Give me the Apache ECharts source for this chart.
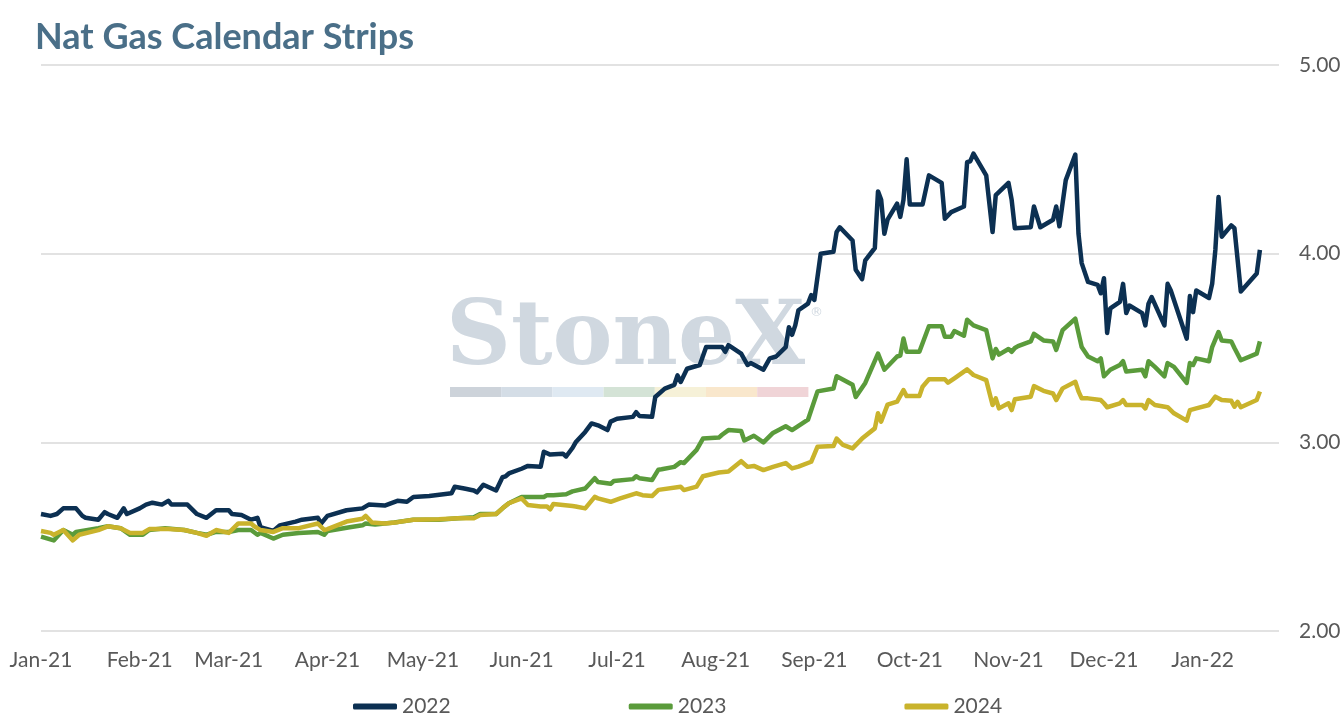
<!DOCTYPE html>
<html lang="en">
<head>
    <meta charset="UTF-8">
    <title>Nat Gas Calendar Strips</title>
    <script src="https://cdn.jsdelivr.net/npm/echarts/dist/echarts.min.js"></script>
    <style>
        html, body { margin: 0; padding: 0; background: #fff; }
        #main { width: 1344px; height: 724px; }
    </style>
</head>
<body>
    <div id="main"></div>
    <script>
        // month labels on the x axis
        var monthNames = ['Jan', 'Feb', 'Mar', 'Apr', 'May', 'Jun', 'Jul', 'Aug', 'Sep', 'Oct', 'Nov', 'Dec'];
        var monthTicks = ['2021-01-01', '2021-02-01', '2021-03-01', '2021-04-01', '2021-05-01', '2021-06-01',
            '2021-07-01', '2021-08-01', '2021-09-01', '2021-10-01', '2021-11-01', '2021-12-01', '2022-01-01'];
        var seriesNames = ['2022', '2023', '2024'];

        // Cal 2022 strip
        var dates2022 = ['2021-01-01','2021-01-04','2021-01-06','2021-01-08','2021-01-12','2021-01-14','2021-01-15','2021-01-19','2021-01-21','2021-01-22','2021-01-25','2021-01-27','2021-01-28',
            '2021-02-01','2021-02-03','2021-02-05','2021-02-08','2021-02-10','2021-02-11','2021-02-16','2021-02-19','2021-02-22','2021-02-25',
            '2021-03-01','2021-03-02','2021-03-05','2021-03-08','2021-03-10','2021-03-11','2021-03-12','2021-03-15','2021-03-17','2021-03-22','2021-03-24','2021-03-29','2021-03-30',
            '2021-04-01','2021-04-07','2021-04-12','2021-04-14','2021-04-19','2021-04-23','2021-04-26','2021-04-28',
            '2021-05-03','2021-05-10','2021-05-11','2021-05-14','2021-05-17','2021-05-18','2021-05-20','2021-05-24','2021-05-26','2021-05-27','2021-05-28',
            '2021-06-01','2021-06-03','2021-06-07','2021-06-08','2021-06-10','2021-06-14','2021-06-15','2021-06-17','2021-06-18','2021-06-21','2021-06-23','2021-06-25','2021-06-28','2021-06-29',
            '2021-07-01','2021-07-06','2021-07-07','2021-07-08','2021-07-12','2021-07-13','2021-07-16','2021-07-19','2021-07-20','2021-07-21','2021-07-23','2021-07-27','2021-07-29',
            '2021-08-03','2021-08-04','2021-08-05','2021-08-09','2021-08-11','2021-08-12','2021-08-16','2021-08-18','2021-08-20','2021-08-23','2021-08-24','2021-08-25','2021-08-26','2021-08-27','2021-08-30','2021-08-31',
            '2021-09-01','2021-09-03','2021-09-07','2021-09-08','2021-09-09','2021-09-13','2021-09-14','2021-09-16','2021-09-17','2021-09-20','2021-09-21','2021-09-22','2021-09-23','2021-09-24','2021-09-27','2021-09-28','2021-09-29','2021-09-30',
            '2021-10-01','2021-10-05','2021-10-07','2021-10-11','2021-10-12','2021-10-14','2021-10-18','2021-10-19','2021-10-20','2021-10-21','2021-10-25','2021-10-27','2021-10-28',
            '2021-11-01','2021-11-02','2021-11-03','2021-11-08','2021-11-09','2021-11-11','2021-11-15','2021-11-16','2021-11-17','2021-11-19','2021-11-22','2021-11-23','2021-11-24','2021-11-26','2021-11-29','2021-11-30',
            '2021-12-01','2021-12-02','2021-12-03','2021-12-06','2021-12-07','2021-12-08','2021-12-09','2021-12-13','2021-12-14','2021-12-15','2021-12-16','2021-12-20','2021-12-21','2021-12-22','2021-12-27','2021-12-28','2021-12-29','2021-12-30',
            '2022-01-03','2022-01-04','2022-01-05','2022-01-06','2022-01-07','2022-01-10','2022-01-11','2022-01-13','2022-01-18','2022-01-19'];
        var strip2022 = [2.62,2.61,2.62,2.65,2.65,2.61,2.60,2.59,2.63,2.62,2.60,2.65,2.62,
            2.65,2.67,2.68,2.67,2.69,2.67,2.67,2.62,2.60,2.64,
            2.64,2.62,2.615,2.59,2.60,2.55,2.545,2.53,2.56,2.58,2.59,2.60,2.57,
            2.61,2.64,2.65,2.67,2.665,2.69,2.685,2.71,
            2.715,2.73,2.765,2.755,2.745,2.735,2.775,2.745,2.815,2.82,2.835,
            2.86,2.875,2.87,2.95,2.935,2.94,2.925,2.97,3.00,3.055,3.10,3.09,3.065,3.11,
            3.125,3.135,3.16,3.14,3.135,3.24,3.285,3.305,3.355,3.32,3.39,3.41,3.505,
            3.505,3.48,3.515,3.47,3.41,3.42,3.385,3.445,3.455,3.505,3.61,3.57,3.62,3.70,3.735,3.78,
            3.755,4.00,4.01,4.115,4.14,4.07,3.915,3.865,3.965,4.03,4.33,4.285,4.105,4.18,4.265,4.195,4.285,4.50,
            4.26,4.26,4.415,4.375,4.185,4.22,4.25,4.485,4.49,4.53,4.415,4.115,4.31,
            4.375,4.285,4.135,4.14,4.25,4.14,4.18,4.25,4.145,4.39,4.525,4.105,3.95,3.85,3.835,3.79,
            3.87,3.58,3.71,3.745,3.84,3.685,3.725,3.685,3.62,3.735,3.77,3.62,3.84,3.805,3.55,3.775,3.69,3.805,
            3.765,3.84,4.02,4.30,4.09,4.15,4.135,3.80,3.895,4.02];

        // Cal 2023 strip
        var dates2023 = ['2021-01-01','2021-01-05','2021-01-08','2021-01-11','2021-01-12','2021-01-19','2021-01-22','2021-01-26','2021-01-29',
            '2021-02-02','2021-02-04','2021-02-09','2021-02-15','2021-02-19','2021-02-22','2021-02-25',
            '2021-03-01','2021-03-04','2021-03-08','2021-03-10','2021-03-11','2021-03-15','2021-03-18','2021-03-23','2021-03-29','2021-03-31',
            '2021-04-01','2021-04-08','2021-04-12','2021-04-13','2021-04-16','2021-04-22','2021-04-28',
            '2021-05-06','2021-05-12','2021-05-17','2021-05-19','2021-05-24','2021-05-26','2021-05-28',
            '2021-06-01','2021-06-08','2021-06-09','2021-06-11','2021-06-15','2021-06-17','2021-06-21','2021-06-24','2021-06-25','2021-06-29','2021-06-30',
            '2021-07-06','2021-07-07','2021-07-08','2021-07-12','2021-07-14','2021-07-15','2021-07-19','2021-07-21','2021-07-22','2021-07-26','2021-07-28',
            '2021-08-02','2021-08-03','2021-08-05','2021-08-09','2021-08-10','2021-08-13','2021-08-16','2021-08-19','2021-08-23','2021-08-25','2021-08-30',
            '2021-09-02','2021-09-07','2021-09-08','2021-09-13','2021-09-14','2021-09-17','2021-09-21','2021-09-23','2021-09-27','2021-09-28','2021-09-29','2021-09-30',
            '2021-10-04','2021-10-07','2021-10-11','2021-10-12','2021-10-14','2021-10-15','2021-10-18','2021-10-19','2021-10-21','2021-10-25','2021-10-27','2021-10-28','2021-10-29',
            '2021-11-01','2021-11-02','2021-11-03','2021-11-04','2021-11-08','2021-11-09','2021-11-12','2021-11-15','2021-11-16','2021-11-18','2021-11-22','2021-11-23','2021-11-24','2021-11-26','2021-11-29','2021-11-30',
            '2021-12-01','2021-12-03','2021-12-06','2021-12-07','2021-12-08','2021-12-13','2021-12-14','2021-12-15','2021-12-17','2021-12-20','2021-12-21','2021-12-23','2021-12-27','2021-12-28','2021-12-29','2021-12-30',
            '2022-01-03','2022-01-04','2022-01-06','2022-01-07','2022-01-10','2022-01-11','2022-01-13','2022-01-18','2022-01-19'];
        var strip2023 = [2.50,2.48,2.535,2.51,2.525,2.545,2.555,2.545,2.51,
            2.51,2.535,2.545,2.535,2.52,2.51,2.525,
            2.525,2.535,2.535,2.51,2.52,2.49,2.51,2.52,2.525,2.51,
            2.53,2.55,2.56,2.57,2.565,2.575,2.59,
            2.59,2.597,2.603,2.62,2.62,2.65,2.677,
            2.71,2.71,2.72,2.72,2.725,2.74,2.755,2.81,2.79,2.78,2.795,
            2.805,2.82,2.81,2.80,2.855,2.857,2.87,2.895,2.89,2.96,3.02,
            3.025,3.04,3.065,3.06,3.01,3.035,3.00,3.05,3.085,3.065,3.12,
            3.27,3.285,3.35,3.305,3.24,3.315,3.47,3.385,3.455,3.46,3.55,3.48,
            3.48,3.615,3.615,3.56,3.56,3.59,3.565,3.65,3.62,3.595,3.445,3.495,3.465,
            3.495,3.48,3.50,3.51,3.535,3.575,3.54,3.535,3.49,3.595,3.655,3.58,3.505,3.455,3.43,3.445,
            3.35,3.385,3.41,3.43,3.375,3.385,3.35,3.43,3.40,3.35,3.42,3.40,3.315,3.42,3.41,3.445,
            3.43,3.505,3.585,3.54,3.535,3.50,3.435,3.47,3.535];

        // Cal 2024 strip
        var dates2024 = ['2021-01-01','2021-01-04','2021-01-05','2021-01-08','2021-01-11','2021-01-13','2021-01-19','2021-01-22','2021-01-26','2021-01-29',
            '2021-02-02','2021-02-04','2021-02-10','2021-02-15','2021-02-19','2021-02-22','2021-02-25',
            '2021-03-01','2021-03-04','2021-03-08','2021-03-09','2021-03-11','2021-03-15','2021-03-18','2021-03-23','2021-03-29','2021-03-31',
            '2021-04-01','2021-04-07','2021-04-12','2021-04-13','2021-04-15','2021-04-19','2021-04-23','2021-04-28',
            '2021-05-06','2021-05-12','2021-05-17','2021-05-19','2021-05-24','2021-05-26','2021-05-28',
            '2021-06-01','2021-06-03','2021-06-07','2021-06-09','2021-06-10','2021-06-11','2021-06-14','2021-06-17','2021-06-18','2021-06-21','2021-06-24','2021-06-25','2021-06-29',
            '2021-07-02','2021-07-07','2021-07-09','2021-07-12','2021-07-14','2021-07-21','2021-07-22','2021-07-26','2021-07-28',
            '2021-08-02','2021-08-05','2021-08-09','2021-08-11','2021-08-13','2021-08-16','2021-08-19','2021-08-23','2021-08-25','2021-08-27','2021-08-31',
            '2021-09-02','2021-09-07','2021-09-08','2021-09-10','2021-09-13','2021-09-16','2021-09-20','2021-09-21','2021-09-22','2021-09-24','2021-09-27','2021-09-29','2021-09-30',
            '2021-10-04','2021-10-05','2021-10-07','2021-10-12','2021-10-13','2021-10-15','2021-10-19','2021-10-21','2021-10-25','2021-10-27','2021-10-28','2021-10-29',
            '2021-11-01','2021-11-02','2021-11-03','2021-11-08','2021-11-09','2021-11-12','2021-11-15','2021-11-16','2021-11-18','2021-11-22','2021-11-23','2021-11-24','2021-11-26','2021-11-30',
            '2021-12-01','2021-12-02','2021-12-06','2021-12-07','2021-12-08','2021-12-13','2021-12-14','2021-12-15','2021-12-17','2021-12-21','2021-12-23','2021-12-27','2021-12-28','2021-12-30',
            '2022-01-03','2022-01-05','2022-01-07','2022-01-10','2022-01-11','2022-01-12','2022-01-13','2022-01-18','2022-01-19'];
        var strip2024 = [2.53,2.52,2.51,2.535,2.48,2.51,2.535,2.555,2.545,2.52,
            2.52,2.54,2.54,2.535,2.52,2.505,2.535,
            2.52,2.57,2.57,2.555,2.535,2.525,2.545,2.545,2.57,2.535,
            2.54,2.58,2.595,2.61,2.575,2.57,2.577,2.59,
            2.592,2.597,2.597,2.615,2.62,2.65,2.677,
            2.703,2.668,2.66,2.66,2.645,2.673,2.668,2.662,2.66,2.65,2.711,2.703,2.685,
            2.703,2.73,2.72,2.715,2.748,2.765,2.747,2.765,2.82,
            2.84,2.845,2.90,2.87,2.875,2.853,2.87,2.89,2.862,2.871,2.897,
            2.977,2.98,3.02,2.986,2.968,3.02,3.074,3.154,3.11,3.20,3.216,3.277,3.245,
            3.245,3.295,3.334,3.334,3.316,3.339,3.387,3.357,3.33,3.198,3.233,3.18,
            3.207,3.171,3.228,3.242,3.298,3.273,3.259,3.224,3.286,3.321,3.27,3.233,3.233,3.224,
            3.207,3.186,3.207,3.224,3.198,3.198,3.18,3.224,3.198,3.186,3.154,3.115,3.171,3.18,
            3.198,3.242,3.224,3.22,3.189,3.215,3.186,3.224,3.269];

        var colors = ['#0c3052', '#5a9b3b', '#c9b32c'];
        var watermarkColors = ['#cdd3da', '#d4dde6', '#dfe9f2', '#d4e3d6', '#f6f1d8', '#f9e7cc', '#f0d4d7'];

        // 'YYYY-MM-DD' -> local timestamp
        function toTime(s) {
            var p = s.split('-');
            return new Date(+p[0], +p[1] - 1, +p[2]).getTime();
        }

        function pairs(dates, vals) {
            return dates.map(function (d, i) { return [toTime(d), vals[i]]; });
        }

        var chartDom = document.getElementById('main');
        var myChart = echarts.init(chartDom);

        var stripe = watermarkColors.map(function (c, i) {
            return {
                type: 'rect',
                shape: { x: 450 + i * 51.2, y: 387, width: 51.2, height: 10 },
                style: { fill: c }
            };
        });

        var option = {
            animation: false,
            backgroundColor: '#fff',
            title: {
                text: 'Nat Gas Calendar Strips',
                left: 30,
                top: 14,
                textStyle: {
                    fontFamily: 'Lato',
                    fontWeight: 'bold',
                    fontSize: 36,
                    color: '#4a6f88'
                }
            },
            graphic: [
                {
                    type: 'group',
                    z: 0,
                    silent: true,
                    children: [
                        {
                            type: 'text',
                            x: 446,
                            y: 296,
                            style: {
                                text: 'StoneX',
                                font: 'bold 90px "DejaVu Serif"',
                                fill: '#d0d8e0'
                            }
                        },
                        {
                            type: 'text',
                            x: 810,
                            y: 306,
                            style: { text: '\u00ae', font: '13px "DejaVu Sans"', fill: '#d0d8e0' }
                        }
                    ].concat(stripe)
                }
            ],
            legend: {
                data: seriesNames,
                left: 348,
                top: 691,
                icon: 'roundRect',
                itemWidth: 44,
                itemHeight: 6,
                itemGap: 178,
                textStyle: { fontFamily: 'Lato', fontSize: 21, color: '#595959' }
            },
            grid: { left: 41, right: 65, top: 65, bottom: 93 },
            xAxis: {
                // timestamps on a value axis, labelled at each month start
                type: 'value',
                min: toTime('2021-01-01'),
                max: toTime('2022-01-25'),
                axisLine: { show: false },
                axisTick: { show: false },
                splitLine: { show: false },
                axisLabel: {
                    customValues: monthTicks.map(toTime),
                    formatter: function (v) {
                        var d = new Date(v);
                        return monthNames[d.getMonth()] + '-' + String(d.getFullYear()).slice(2);
                    },
                    fontFamily: 'Lato',
                    fontSize: 21,
                    color: '#595959',
                    margin: 19
                }
            },
            yAxis: {
                type: 'value',
                position: 'right',
                min: 2,
                max: 5,
                interval: 1,
                axisLine: { show: false },
                axisTick: { show: false },
                axisLabel: {
                    formatter: function (v) { return v.toFixed(2); },
                    fontFamily: 'Lato',
                    fontSize: 21,
                    color: '#595959',
                    margin: 20
                },
                splitLine: { lineStyle: { color: '#d9d9d9', width: 1.5 } }
            },
            series: [
                { name: seriesNames[0], data: pairs(dates2022, strip2022) },
                { name: seriesNames[1], data: pairs(dates2023, strip2023) },
                { name: seriesNames[2], data: pairs(dates2024, strip2024) }
            ].map(function (s, i) {
                return Object.assign(s, {
                    type: 'line',
                    showSymbol: false,
                    color: colors[i],
                    lineStyle: { width: 4.5, color: colors[i], join: 'round' },
                    z: 3
                });
            })
        };

        myChart.setOption(option);

        window.addEventListener('resize', function () {
            myChart.resize();
        });
    </script>
</body>
</html>
